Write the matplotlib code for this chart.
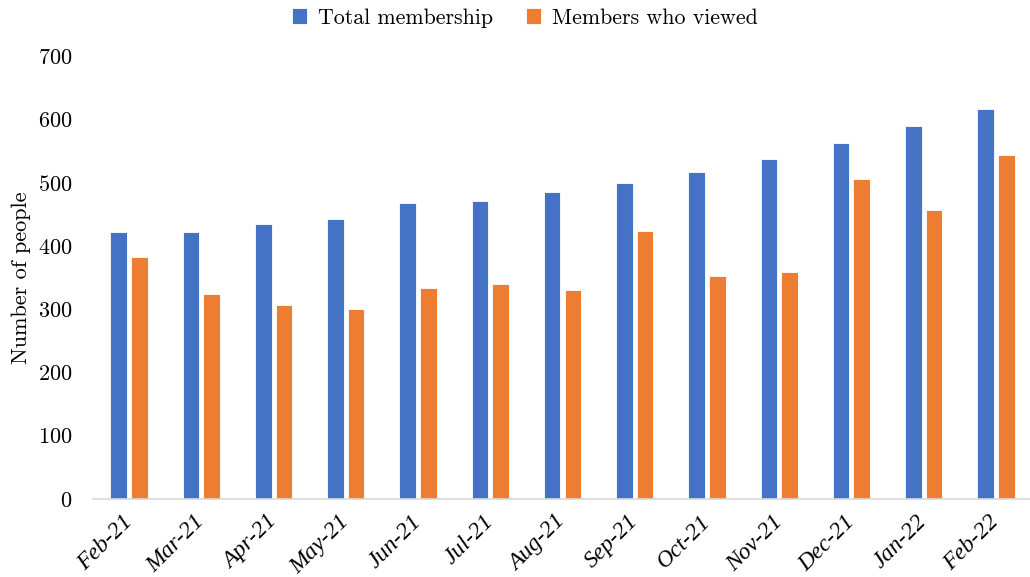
import matplotlib
matplotlib.use("Agg")
import matplotlib.pyplot as plt
import numpy as np

months = ["Feb-21", "Mar-21", "Apr-21", "May-21", "Jun-21", "Jul-21", "Aug-21",
          "Sep-21", "Oct-21", "Nov-21", "Dec-21", "Jan-22", "Feb-22"]
total_membership = [422, 422, 434, 442, 468, 471, 485, 500, 517, 538, 562, 589, 616]
members_viewed = [382, 324, 306, 301, 333, 340, 331, 423, 352, 359, 506, 457, 543]

plt.rcParams['font.family'] = ['cmr10', 'DejaVu Serif']
plt.rcParams['axes.formatter.use_mathtext'] = True

fig = plt.figure(figsize=(10.30, 5.77), dpi=100)
ax = fig.add_axes([93/1030, 1 - 499/577, (1032 - 93)/1030, (499 - 56)/577])

x = np.arange(len(months))
w = 0.23
off = 0.143
ax.bar(x - off, total_membership, width=w, color='#4472C4', edgecolor='white',
       linewidth=0.6, label='Total membership')
ax.bar(x + off, members_viewed, width=w, color='#ED7D31', edgecolor='white',
       linewidth=0.6, label='Members who viewed')

ax.set_xlim(-0.5, len(months) - 0.5)
ax.set_ylim(0, 700)
ax.set_yticks(np.arange(0, 701, 100))
ax.tick_params(axis='y', length=0, pad=15, labelsize=16)
ax.tick_params(axis='x', length=0, pad=6)
ax.set_xticks(x)
ax.set_xticklabels(months, rotation=45, ha='right', va='center', rotation_mode='anchor',
                   fontsize=17, family='Liberation Serif', style='italic')
for lab in ax.get_xticklabels():
    lab.set_y(-0.025)

for s in ['top', 'right', 'left']:
    ax.spines[s].set_visible(False)
ax.spines['bottom'].set_color('#D9D9D9')
ax.spines['bottom'].set_linewidth(1.2)

ax.set_ylabel('Number of people', fontsize=16)
ax.yaxis.set_label_coords(-0.066, 0.5)

fig.legend(loc='center', bbox_to_anchor=(525/1030, 1 - 18/577), ncol=2, frameon=False,
           fontsize=15.8, handlelength=0.7, handleheight=0.7, handletextpad=0.5,
           columnspacing=1.5)

fig.savefig('out.png', dpi=100)
